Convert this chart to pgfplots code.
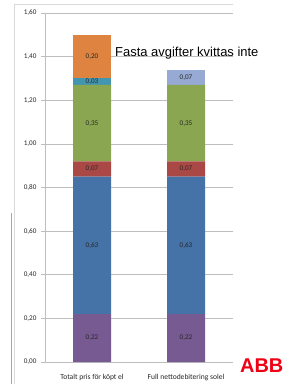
\documentclass[border=0pt]{standalone}
\usepackage{pgfplots}
\pgfplotsset{compat=1.18}
\usepackage{fontspec}
\setmainfont{Carlito}
\newfontfamily\arialf{Liberation Sans}
\definecolor{cPurple}{RGB}{118,90,145}
\definecolor{cBlue}{RGB}{69,114,167}
\definecolor{cRed}{RGB}{170,72,70}
\definecolor{cGreen}{RGB}{138,166,80}
\definecolor{cTeal}{RGB}{66,150,176}
\definecolor{cOrange}{RGB}{222,132,64}
\definecolor{cLight}{RGB}{150,170,212}
\definecolor{cGrid}{RGB}{190,190,190}
\definecolor{cLbl}{RGB}{40,40,40}
\begin{document}
\begin{tikzpicture}
\useasboundingbox[fill=white] (0bp,0bp) rectangle (287bp,-384bp);
\draw[color=black!15, line width=0.8bp] (14bp,-4bp) -- (233bp,-4bp);
\draw[color=black!15, line width=0.8bp] (14bp,-4bp) -- (14bp,-384bp);
\draw[color=black!35, line width=0.8bp] (11.5bp,-213bp) -- (11.5bp,-384bp);
\begin{axis}[
  at={(45bp,-362bp)}, anchor=south west,
  scale only axis, width=188bp, height=349bp,
  xmin=-0.5, xmax=1.5, ymin=0, ymax=1.6,
  ybar stacked, bar width=38bp,
  axis x line*=bottom, axis y line*=left,
  axis line style={color=cGrid, line width=0.7bp},
  ytick={0,0.2,...,1.6},
  ymajorgrids, grid style={color=cGrid, line width=0.7bp},
  major tick length=4bp,
  tick style={color=cGrid, line width=0.7bp},
  ytick align=outside, xtick align=outside,
  /pgf/number format/.cd, use comma, fixed, fixed zerofill, precision=2, assume math mode=true,
  /pgfplots/.cd,
  yticklabel style={font=\fontsize{7.2}{8}\selectfont, color=cLbl, xshift=-1bp},
  xtick={0,1},
  xticklabels={Totalt pris för köpt el, Full nettodebitering solel},
  x tick style={draw=none},
  xticklabel style={font=\fontsize{7.6}{8}\selectfont, color=cLbl, yshift=-5bp},
  extra x ticks={-0.5,0.5,1.5},
  extra x tick labels={},
  extra x tick style={tick style={draw=cGrid, line width=0.7bp}, major tick length=4bp, grid=none},
]
\addplot[fill=cPurple, draw=none] coordinates {(0,0.22) (1,0.22)};
\addplot[fill=cBlue, draw=none] coordinates {(0,0.63) (1,0.63)};
\addplot[fill=cRed, draw=none] coordinates {(0,0.07) (1,0.07)};
\addplot[fill=cGreen, draw=none] coordinates {(0,0.35) (1,0.35)};
\addplot[fill=cTeal, draw=none] coordinates {(0,0.03) (1,0)};
\addplot[fill=cOrange, draw=none] coordinates {(0,0.20) (1,0)};
\addplot[fill=cLight, draw=none] coordinates {(0,0) (1,0.07)};
\end{axis}
\begin{axis}[
  at={(45bp,-362bp)}, anchor=south west,
  scale only axis, width=188bp, height=349bp,
  xmin=-0.5, xmax=1.5, ymin=0, ymax=1.6,
  hide axis, clip=false,
]
\addplot[only marks, mark=none, nodes near coords, point meta=explicit symbolic,
  every node near coord/.style={anchor=center, font=\fontsize{7.2}{8}\selectfont, text=cLbl, inner sep=0pt}]
  coordinates {
  (0,0.11) [0,22] (0,0.535) [0,63] (0,0.885) [0,07] (0,1.095) [0,35] (0,1.285) [0,03] (0,1.40) [0,20]
  (1,0.11) [0,22] (1,0.535) [0,63] (1,0.885) [0,07] (1,1.095) [0,35] (1,1.305) [0,07]
  };
\end{axis}
\node[anchor=base west, inner sep=0pt, font=\arialf\fontsize{13}{15}\selectfont] at (115bp,-56bp) {Fasta avgifter kvittas inte};
\node[anchor=base west, inner sep=0pt, font=\arialf\bfseries\fontsize{20}{22}\selectfont, text={rgb,255:red,240;green,0;blue,20}] at (240bp,-372bp) {ABB};
\end{tikzpicture}
\end{document}
